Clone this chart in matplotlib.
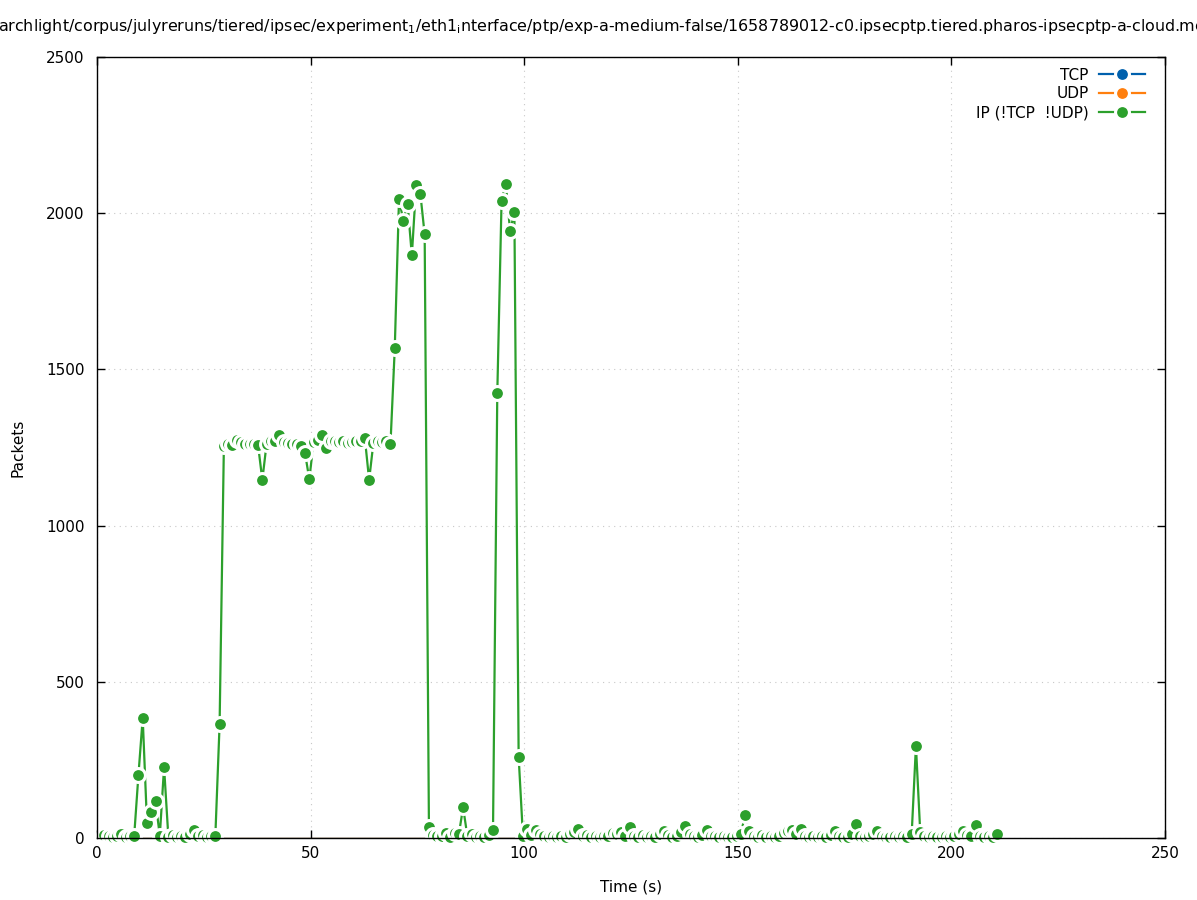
#!/usr/bin/env python3
"""Packets per second over time, gnuplot-like linespoints."""

import matplotlib
matplotlib.use("Agg")
import matplotlib.pyplot as plt
import numpy as np
from matplotlib.lines import Line2D

TITLE = ("archlight/corpus/julyreruns/tiered/ipsec/experiment$_1$/eth1$_\\mathrm{i}$nterface/ptp/"
         "exp-a-medium-false/1658789012-c0.ipsecptp.tiered.pharos-ipsecptp-a-cloud.mean.csv")

# one sample per second, first sample at 1.7 s
TIME_S = np.arange(1, 211) + 0.7

IP_OTHER = [
    10, 5, 2, 8, 12, 3, 6, 6, 202, 384,
    48, 82, 118, 7, 227, 4, 10, 3, 8, 2,
    14, 25, 5, 10, 3, 8, 6, 365, 1255, 1262,
    1258, 1275, 1268, 1262, 1260, 1262, 1258, 1146, 1262, 1270,
    1272, 1290, 1268, 1265, 1262, 1260, 1255, 1232, 1148, 1268,
    1275, 1290, 1248, 1272, 1270, 1268, 1270, 1265, 1268, 1270,
    1272, 1280, 1146, 1265, 1270, 1268, 1270, 1262, 1567, 2047,
    1975, 2029, 1865, 2090, 2061, 1932, 36, 10, 5, 8,
    16, 3, 16, 12, 98, 6, 12, 4, 8, 3,
    10, 26, 1423, 2040, 2095, 1942, 2005, 260, 8, 28,
    10, 26, 12, 5, 3, 8, 2, 6, 4, 12,
    18, 30, 6, 10, 3, 7, 2, 5, 8, 15,
    12, 18, 8, 35, 8, 4, 10, 3, 6, 2,
    12, 24, 10, 4, 8, 18, 38, 12, 6, 3,
    10, 25, 8, 5, 3, 7, 4, 2, 6, 12,
    74, 22, 8, 4, 10, 3, 6, 2, 8, 15,
    22, 26, 12, 30, 8, 3, 6, 2, 5, 4,
    10, 24, 8, 4, 3, 12, 46, 6, 3, 5,
    12, 24, 8, 4, 3, 6, 2, 5, 4, 12,
    295, 20, 6, 3, 5, 2, 4, 6, 3, 8,
    12, 24, 10, 6, 42, 8, 3, 5, 2, 13,
]
TCP = [0] * len(TIME_S)
UDP = [0] * len(TIME_S)

SERIES = ["TCP", "UDP", "IP (!TCP  !UDP)"]
COLORS = {"TCP": "#0060ad", "UDP": "#ff7f0e", "IP (!TCP  !UDP)": "#2ca02c"}

X_TICKS = [0, 50, 100, 150, 200, 250]
Y_TICKS = [0, 500, 1000, 1500, 2000, 2500]

plt.rcParams["font.family"] = ["DejaVu Sans"]


def main() -> None:
    fig = plt.figure(figsize=(11.97, 9.0), dpi=100)
    ax = fig.add_axes([97 / 1197, 1 - 838 / 900, (1165 - 97) / 1197, (838 - 57) / 900])

    # TCP / UDP are flat at zero, hidden under the x axis
    ax.plot(TIME_S, TCP, color=COLORS["TCP"], lw=1.0, zorder=1)
    ax.plot(TIME_S, UDP, color=COLORS["UDP"], lw=1.0, zorder=1)
    ax.plot(TIME_S, IP_OTHER, color=COLORS["IP (!TCP  !UDP)"], lw=1.6,
            marker="o", ms=10, mec="white", mew=2.2, clip_on=False, zorder=2)

    ax.set_xlim(0, 250)
    ax.set_ylim(0, 2500)
    ax.set_xticks(X_TICKS)
    ax.set_yticks(Y_TICKS)
    ax.tick_params(direction="in", length=6, width=1, top=True, right=True, labelsize=11)
    ax.tick_params(axis="x", pad=6)
    ax.tick_params(axis="y", pad=9)
    ax.grid(True, color="#c8c8c8", linestyle=(0, (1, 4)), linewidth=0.8)
    for sp in ax.spines.values():
        sp.set_linewidth(1.0)
        sp.set_zorder(3)

    ax.set_xlabel("Time (s)", fontsize=11, labelpad=13)
    ax.set_ylabel("Packets", fontsize=11, labelpad=15)

    handles = [Line2D([], [], color=COLORS[s], lw=1.6, marker="o", ms=10,
                      mec="white", mew=2.2) for s in SERIES]
    ax.legend(handles, SERIES, loc="upper right", bbox_to_anchor=(0.9813, 0.9865),
              frameon=False, markerfirst=False, fontsize=11, handlelength=3.0,
              labelspacing=0.25, handletextpad=0.7, borderaxespad=0.0, borderpad=0.0)

    fig.text(-0.002, 0.970, TITLE, ha="left", va="center", fontsize=11.4)

    fig.savefig("out.png", dpi=100)
    plt.close(fig)


if __name__ == "__main__":
    main()
